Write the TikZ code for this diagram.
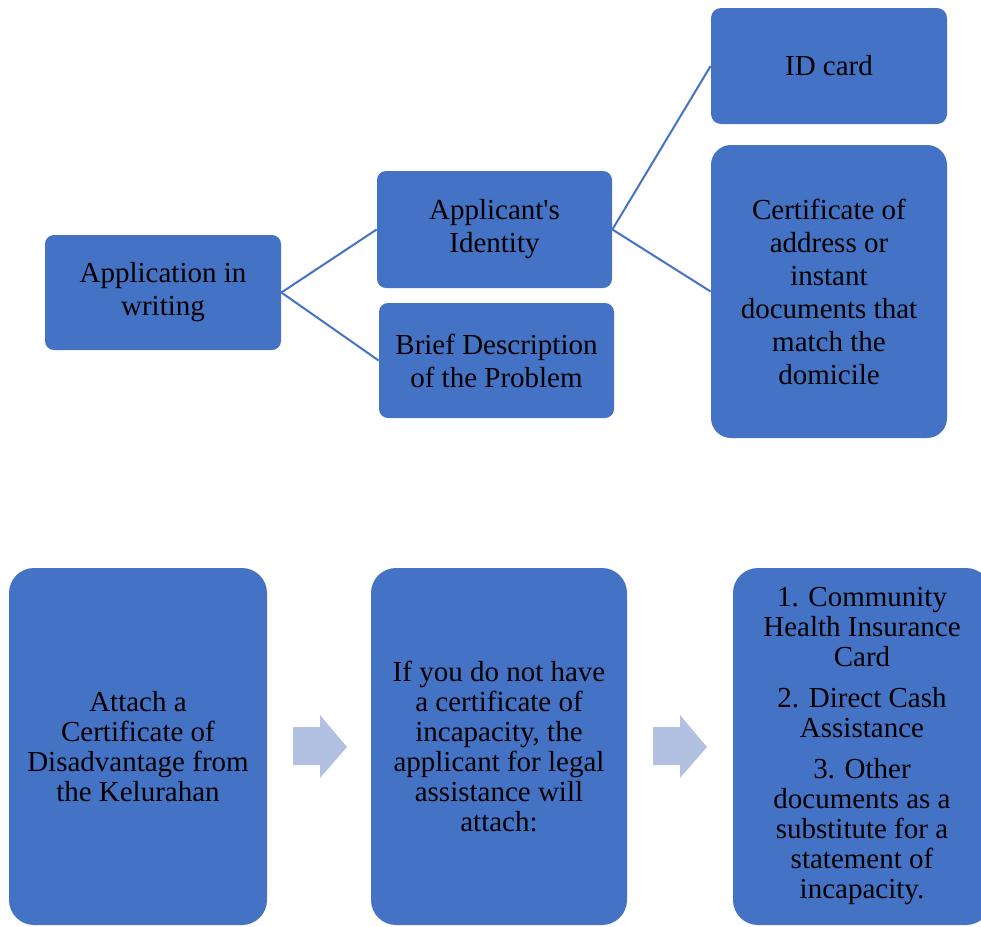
\documentclass[tikz,border=0pt]{standalone}
\usepackage{fontspec}
\setmainfont{Liberation Serif}
\definecolor{boxblue}{HTML}{4472C4}
\definecolor{arrowblue}{RGB}{178,192,225}

\begin{document}
\begin{tikzpicture}[x=0.5pt,y=-0.5pt,
    box/.style={rectangle,fill=boxblue,rounded corners=4.5pt,align=center,inner sep=2pt,font=\fontsize{14.5}{16.5}\selectfont},
    tall/.style={box,rounded corners=12.5pt,font=\fontsize{14.5}{15}\selectfont},
    lnk/.style={draw=boxblue,line width=1pt},
    flow/.style={fill=arrowblue}]
    \clip (0,0) rectangle (981,927);
    \node[box,minimum width=118pt,minimum height=57.5pt] (app) at (163,292.5) {Application in\\writing};
    \node[box,minimum width=117.5pt,minimum height=58.5pt] (ident) at (494.5,229.5) {Applicant\textquotesingle s\\Identity};
    \node[box,minimum width=117.5pt,minimum height=57.5pt] (brief) at (496.5,360.5) {Brief Description\\of the Problem};
    \node[box,minimum width=118pt,minimum height=58pt,rounded corners=5pt] (idcard) at (829,66) {ID card};
    \node[box,minimum width=118pt,minimum height=146.5pt,rounded corners=10pt] (addr) at (829,291.5) {Certificate of\\address or\\instant\\documents that\\match the\\domicile};
    \draw[lnk] (app.east)--(ident.west);
    \draw[lnk] (app.east)--(brief.west);
    \draw[lnk] (ident.east)--(idcard.west);
    \draw[lnk] (ident.east)--(addr.west);
    \node[tall,minimum width=129pt,minimum height=178.5pt] (disadv) at (138,746.5) {Attach a\\Certificate of\\Disadvantage from\\the Kelurahan};
    \node[tall,minimum width=128pt,minimum height=178.5pt] (incap) at (499,746.5) {If you do not have\\a certificate of\\incapacity, the\\applicant for legal\\assistance will\\attach:};
    \node[tall,minimum width=129pt,minimum height=178.5pt] (docs) at (862,746.5) {1. Community\\Health Insurance\\Card\\[5.5pt]2. Direct Cash\\Assistance\\[5.5pt]3. Other\\documents as a\\substitute for a\\statement of\\incapacity.};
    \foreach \x in {293,653}
        \fill[flow] (\x,727)--++(27,0)--++(0,-12)--++(27,32)--++(-27,31)--++(0,-13)--++(-27,0)--cycle;
\end{tikzpicture}
\end{document}
